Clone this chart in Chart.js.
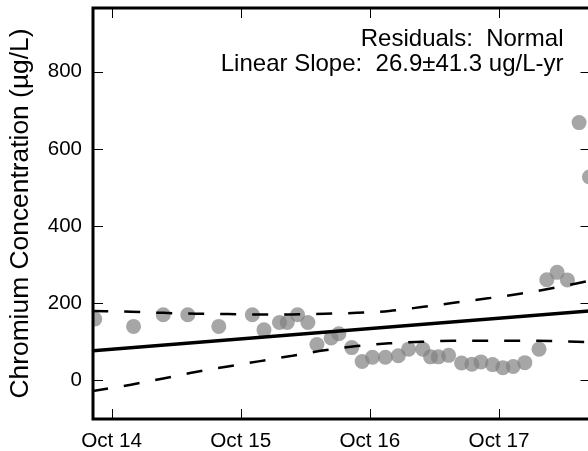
<!DOCTYPE html>
<html>
<head>
<meta charset="utf-8">
<script src="https://cdn.jsdelivr.net/npm/chart.js@4.4.1/dist/chart.umd.min.js"></script>
<style>
  html, body { margin: 0; padding: 0; background: #fff; overflow: hidden; }
  #wrap { width: 596px; height: 451px; }
</style>
</head>
<body>
<div id="wrap"><canvas id="chart" width="596" height="451"></canvas></div>
<script>
// sample times in days after Oct 14 00:00
const sampleDays = [-0.13, 0.17, 0.40, 0.59, 0.83, 1.09, 1.18, 1.30, 1.36, 1.44, 1.52, 1.59, 1.70, 1.76,
  1.86, 1.94, 2.02, 2.12, 2.22, 2.30, 2.41, 2.47, 2.53, 2.61, 2.71, 2.79, 2.86, 2.95, 3.03, 3.11,
  3.20, 3.31, 3.37, 3.45, 3.53, 3.62, 3.70];
const chromium = [159, 140, 170, 170, 140, 170, 131, 150, 150, 170, 150, 93, 110, 121,
  85, 49, 60, 60, 64, 81, 81, 61, 61, 65, 45, 42, 48, 41, 33, 36,
  46, 81, 261, 280, 260, 668, 527];

// regression line and confidence band
const fitDays = [-0.15, 3.70];
const fitValues = [77, 180];
const bandDays = [-0.15, 0.15, 0.4, 0.65, 0.9, 1.15, 1.4, 1.65, 1.9, 2.15, 2.4, 2.65, 2.9, 3.15, 3.4, 3.7];
const bandUpper = [180, 178, 175, 173, 172, 171, 171, 173, 175, 180, 190, 201, 212, 224, 238, 258];
const bandLower = [-28, -11, 5, 22, 36, 50, 64, 78, 89, 96, 100, 103, 103, 103, 102, 99];

const dayTicks = [0, 1, 2, 3];
const dayLabels = ['Oct 14', 'Oct 15', 'Oct 16', 'Oct 17'];
const concTicks = [0, 200, 400, 600, 800];
const notes = ['Residuals:  Normal', 'Linear Slope:  26.9\u00b141.3 ug/L-yr'];

const FONT = '"Liberation Sans", Arial, sans-serif';

const toPoints = (xs, ys) => xs.map((x, i) => ({ x: x, y: ys[i] }));

// box around the plot, inward ticks on all sides, text notes
const framePlugin = {
  id: 'frame',
  afterDatasetsDraw(chart) {
    const { ctx, chartArea: a, scales: { x, y } } = chart;
    ctx.save();
    ctx.strokeStyle = '#000';
    ctx.lineWidth = 1;
    ctx.beginPath();
    dayTicks.forEach(d => {
      const px = Math.round(x.getPixelForValue(d)) + 0.5;
      ctx.moveTo(px, a.bottom); ctx.lineTo(px, a.bottom - 10);
      ctx.moveTo(px, a.top); ctx.lineTo(px, a.top + 10);
    });
    concTicks.forEach(v => {
      const py = Math.round(y.getPixelForValue(v)) + 0.5;
      ctx.moveTo(a.left, py); ctx.lineTo(a.left + 10, py);
      ctx.moveTo(a.right + 2, py); ctx.lineTo(a.right - 8, py);
    });
    ctx.stroke();

    // right side of the box sits just past the window edge
    const r = a.right + 2;
    ctx.lineWidth = 3;
    ctx.beginPath();
    ctx.moveTo(r, a.top); ctx.lineTo(a.left, a.top);
    ctx.lineTo(a.left, a.bottom); ctx.lineTo(r, a.bottom);
    ctx.lineTo(r, a.top); ctx.closePath();
    ctx.stroke();

    ctx.fillStyle = '#000';
    ctx.font = '24px ' + FONT;
    ctx.textAlign = 'right';
    ctx.textBaseline = 'alphabetic';
    ctx.fillText(notes[0], a.right - 25, a.top + 38);
    ctx.fillText(notes[1], a.right - 25, a.top + 63);
    ctx.restore();
  }
};

new Chart(document.getElementById('chart'), {
  type: 'scatter',
  data: {
    datasets: [
      {
        data: toPoints(fitDays, fitValues),
        showLine: true,
        borderColor: '#000',
        borderWidth: 3.5,
        pointRadius: 0,
        clip: 0,
        order: 0
      },
      {
        data: toPoints(bandDays, bandUpper),
        showLine: true,
        borderColor: '#000',
        borderWidth: 2.5,
        borderDash: [16, 16],
        cubicInterpolationMode: 'monotone',
        pointRadius: 0,
        clip: 0,
        order: 0
      },
      {
        data: toPoints(bandDays, bandLower),
        showLine: true,
        borderColor: '#000',
        borderWidth: 2.5,
        borderDash: [16, 16],
        cubicInterpolationMode: 'monotone',
        pointRadius: 0,
        clip: 0,
        order: 0
      },
      {
        data: toPoints(sampleDays, chromium),
        backgroundColor: 'rgba(128,128,128,0.7)',
        borderWidth: 0,
        pointRadius: 7.5,
        clip: 0,
        order: 1
      }
    ]
  },
  options: {
    responsive: false,
    animation: false,
    events: [],
    layout: { padding: { top: 8, right: 6, left: 0, bottom: 0 } },
    plugins: { legend: { display: false }, tooltip: { enabled: false } },
    scales: {
      x: {
        type: 'linear',
        min: -0.144,
        max: 3.693,
        grid: { display: false, drawTicks: false },
        border: { display: false },
        afterBuildTicks: s => { s.ticks = dayTicks.map(v => ({ value: v })); },
        afterFit: s => { s.height = 32; s.paddingLeft = 0; s.paddingRight = 0; },
        ticks: {
          autoSkip: false,
          maxRotation: 0,
          padding: 10,
          color: '#000',
          font: { family: FONT, size: 20.7 },
          callback: (v, i) => dayLabels[i]
        }
      },
      y: {
        min: -100,
        max: 965,
        grid: { display: false, drawTicks: false },
        border: { display: false },
        afterBuildTicks: s => { s.ticks = concTicks.map(v => ({ value: v })); },
        afterFit: s => { s.width = 93; s.paddingTop = 0; s.paddingBottom = 0; },
        ticks: {
          padding: 11,
          color: '#000',
          font: { family: FONT, size: 20.5 },
          callback: v => String(v)
        },
        title: {
          display: true,
          text: 'Chromium Concentration (\u00b5g/L)',
          color: '#000',
          font: { family: FONT, size: 26.4, lineHeight: 1 },
          padding: { top: 8, bottom: 0 }
        }
      }
    }
  },
  plugins: [framePlugin]
});
</script>
</body>
</html>
